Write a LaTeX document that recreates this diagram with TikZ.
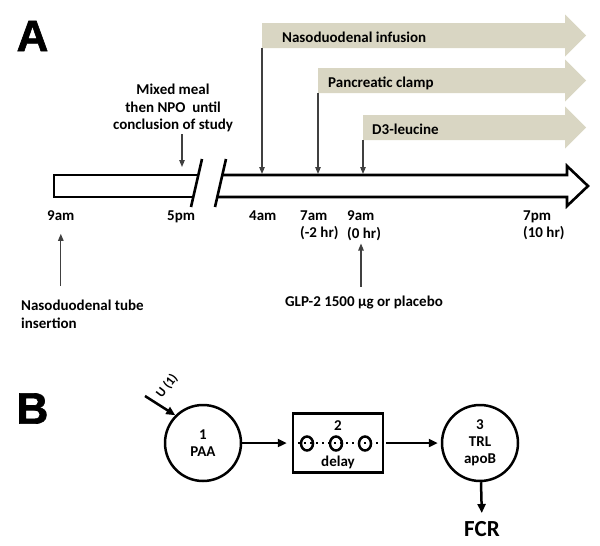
\documentclass[tikz,border=0pt]{standalone}
\usepackage{fontspec}
\setmainfont{Carlito}
\newfontfamily\panelfont[BoldFeatures={FakeBold=1.5}]{Liberation Sans}
\usepackage{xcolor}
\usetikzlibrary{arrows.meta}
\usetikzlibrary{positioning}

\definecolor{bandgrey}{RGB}{217,214,195}

\tikzset{
  lbl/.style={font=\fontsize{15}{17.5}\selectfont\bfseries,inner sep=0pt,align=left},
  panel/.style={font=\panelfont\fontsize{44}{44}\selectfont\bfseries,inner sep=0pt},
  bar/.style={line width=2.6pt,line join=miter},
  thinarrow/.style={draw=black!75,line width=1.1pt,-{Triangle[length=7pt,width=5.5pt]}},
  thickarrow/.style={line width=2.5pt,-{Triangle[length=9pt,width=8pt]}},
  comp/.style={shape=circle,draw,line width=2.5pt,minimum size=76pt,inner sep=0pt,
    align=center,font=\fontsize{15}{17}\selectfont\bfseries},
  delaybox/.style={shape=rectangle,draw,line width=2.5pt,minimum width=90pt,minimum height=59pt}
}

\begin{document}
\begin{tikzpicture}[x=1pt,y=-1pt]
  \useasboundingbox (0,0) rectangle (600,546);

  % panel A: the time line
  \begin{scope}
        \coordinate (BarTop)  at (300,174);
        \coordinate (MealTip) at (182,167);
        \node[panel] (A) at (32.5,36) {A};

        % the bar, broken between 5pm and 4am
        \draw[bar] (198.3,175) -- (54,175) -- (54,197) -- (193.3,197);
        \draw[bar] (222.3,175) -- (567,175) -- (567,166) -- (588,186) -- (567,206) -- (567,197) -- (217.3,197);
        \draw[bar] (202,159) -- (191,207);% first break
        \draw[bar] (226,159) -- (215,207);% second break

        % the three infusions
        \foreach \name/\x/\y/\dx/\txt in {infusion/262/35.5/20/Nasoduodenal infusion,
                                         clamp/318/80.5/10/Pancreatic clamp,
                                         leucine/363/127.5/9/D3-leucine}
        {
            \fill[bandgrey] (\x,\y-12.5) -- (565,\y-12.5) -- (565,\y-21) -- (586,\y)
                -- (565,\y+21) -- (565,\y+12.5) -- (\x,\y+12.5) -- cycle;
            \coordinate (\name) at (\x,\y+12.5);
            \node[lbl,anchor=base west] (\name-txt) at (\x+\dx,\y+6.5) {\txt};
            \draw[thinarrow] (\name) -- (\name |- BarTop);
        }

        % times under the bar
        \node[lbl,anchor=north west] (t9am) at (47,210.5) {9am};
        \node[lbl,anchor=north west] (t5pm) at (167,210.5) {5pm};
        \node[lbl,anchor=north west] (t4am) at (249,210.5) {4am};
        \node[lbl,anchor=north west] (t7am) at (300,210.5) {7am\\(-2 hr)};
        \node[lbl,anchor=north west] (t9am0) at (347,210.5) {9am\\(0 hr)};
        \node[lbl,anchor=north west] (t7pm) at (523,210.5) {7pm\\(10 hr)};

        \node[lbl,align=center] (meal) at (173,108) {Mixed meal\\then NPO~ until\\conclusion of study};
        \draw[thinarrow,shorten <=2pt] (MealTip |- meal.south) -- (MealTip);

        \node[lbl,anchor=north west] (tube) at (21,300) {Nasoduodenal tube\\insertion};
        \draw[thinarrow] ([yshift=14pt]tube.north -| t9am.south) -- ([yshift=-13pt]t9am.south);

        \node[lbl,anchor=base] (glp) at (364,306.6) {GLP-2 1500 µg or placebo};
        \draw[thinarrow] ([xshift=-3pt,yshift=9pt]glp.north) -- ([xshift=-3pt,yshift=-3pt]glp.north |- t9am0.south);
  \end{scope}

  % panel B: the model
  \begin{scope}
        \node[panel] (B) at (32.5,408.5) {B};

        \node[comp] (paa) at (203,443) {1\\PAA};
        \node[delaybox] (delay) at (338,443) {};
        \node[comp] (trl) at (480,443) {3\\TRL\\apoB};

        \node[lbl,anchor=base] (two) at (338,430.6) {2};
        \node[lbl,anchor=base] (delaytxt) at (338,466) {delay};
        \draw[line width=2.5pt,dash pattern=on 2.5pt off 3.5pt] (delay.west) -- (delay.east);
        \foreach \i in {-1,0,1}
        {
            \draw[line width=2.5pt] (336+29*\i,443.5) ellipse [x radius=6pt,y radius=7pt];
        }

        \coordinate (uin) at (145,396);
        \node[lbl,rotate=52,font=\fontsize{13}{13}\selectfont\bfseries] (u1) at (167,386) {U (1)};
        \draw[thickarrow] (uin) -- (paa.135);

        \draw[thickarrow,shorten >=5pt] (paa) -- (delay);
        \draw[thickarrow,shorten <=2pt,shorten >=3pt] (delay) -- (trl);

        \node[lbl,anchor=base,font=\fontsize{23}{23}\selectfont\bfseries] (fcr) at (482,536.3) {FCR};
        \draw[thickarrow,shorten >=8pt] (trl) -- (fcr.north);
  \end{scope}

\end{tikzpicture}
\end{document}
